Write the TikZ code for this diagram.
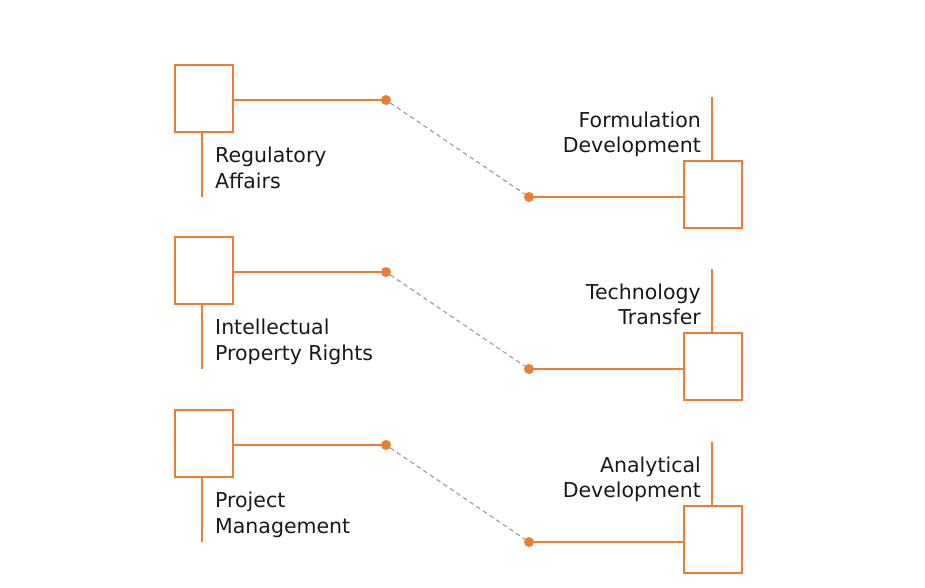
\documentclass[tikz,border=0pt]{standalone}
\usepackage{fontspec}
\setmainfont{DejaVu Sans}
\definecolor{org}{HTML}{ED7D31}
\definecolor{dgray}{HTML}{999999}
\begin{document}
\begin{tikzpicture}[x=1pt,y=-1pt,
  sq/.style={draw=org,line width=1.7pt,minimum width=58pt,minimum height=67pt,inner sep=0pt},
  dotn/.style={circle,fill=org,inner sep=0pt,minimum size=10pt},
  oline/.style={draw=org,line width=1.7pt},
  dline/.style={draw=dgray,line width=1.1pt,dash pattern=on 4.5pt off 3.5pt},
  lbl/.style={inner sep=0pt,font=\fontsize{20.5pt}{25.5pt}\selectfont,text=black!90}]
\useasboundingbox (0,0) rectangle (925,587);
\foreach \k/\dy/\lt/\rt in {0/0/{Regulatory\\Affairs}/{Formulation\\Development},
                        1/172/{Intellectual\\Property Rights}/{Technology\\Transfer},
                        2/345/{Project\\Management}/{Analytical\\Development}} {
  \node[sq] (L\k) at (204,98.5+\dy) {};
  \node[sq] (R\k) at (713,194.5+\dy) {};
  \node[dotn] (A\k) at (386,100+\dy) {};
  \node[dotn] (B\k) at (529,197+\dy) {};
  \coordinate (LB\k) at (202,197+\dy);
  \coordinate (RT\k) at (712,97+\dy);
  \draw[oline] (A\k.center) -- (A\k.center -| L\k.east);
  \draw[oline] (B\k.center) -- (B\k.center -| R\k.west);
  \draw[oline] (LB\k |- L\k.south) -- (LB\k);
  \draw[oline] (RT\k |- R\k.north) -- (RT\k);
  \draw[dline] (A\k) -- (B\k);
  \node[lbl,anchor=base west,align=left] (TL\k) at (215,188+\dy) {\lt};
  \node[lbl,anchor=base east,align=right] (TR\k) at (701,152.5+\dy) {\rt};
}
\end{tikzpicture}
\end{document}
